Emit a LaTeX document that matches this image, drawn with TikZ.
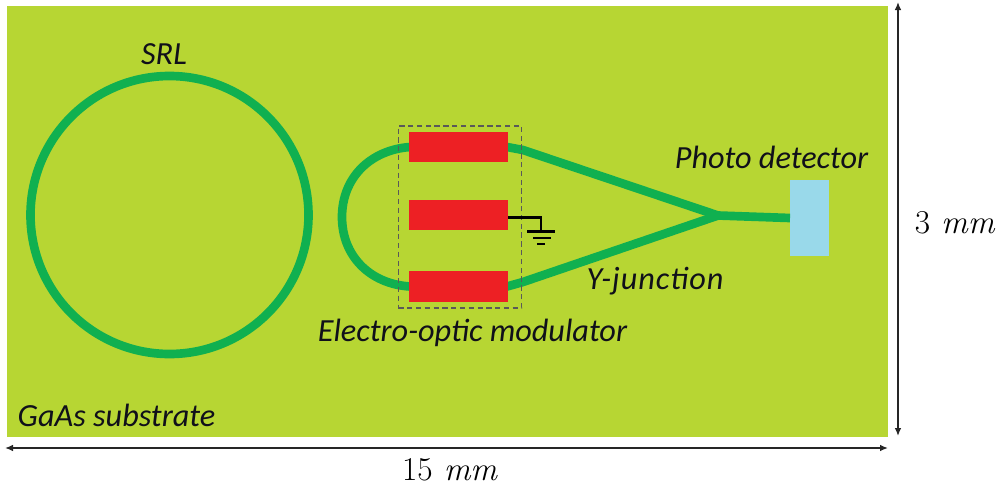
\documentclass[tikz,border=0pt]{standalone}
\usepackage{fontspec}
\setmainfont{Carlito}
\usetikzlibrary{arrows.meta,calc}
\definecolor{subst}{HTML}{B7D633}
\definecolor{guide}{HTML}{10B050}
\definecolor{elec}{HTML}{ED2024}
\definecolor{detect}{HTML}{99D9EA}
\definecolor{ink}{HTML}{10101A}
\tikzset{
  x=0.75pt,y=-0.75pt,
  wave/.style={draw=guide,line width=6.5pt,line join=round},
  electrode/.style={fill=elec,draw=none,minimum width=74.25pt,minimum height=22.9pt,inner sep=0pt,outer sep=0pt},
  lab/.style={font=\fontsize{24.2}{27}\selectfont\itshape,text=ink,inner sep=0pt},
  dim/.style={font=\fontsize{25}{28}\selectfont,text=black,inner sep=0pt},
  dimline/.style={draw=black!85,line width=1.1pt,{Latex[length=6pt,width=5pt]}-{Latex[length=6pt,width=5pt]}},
  gnd/.style={draw=black,line width=1.7pt}
}
\newcommand{\mmval}[1]{\fontspec{Latin Modern Roman}#1\,\,\textit{mm}}
\begin{document}
\begin{tikzpicture}
\useasboundingbox (0,0) rectangle (1000,486);
\node[fill=subst,draw=none,minimum width=660.75pt,minimum height=323.25pt,inner sep=0pt,outer sep=0pt,anchor=north west] (substrate) at (7,6) {};
\node[draw=guide,line width=6.5pt,circle,minimum size=208.5pt,inner sep=0pt] (srl) at (169.5,215) {};
\node[electrode] (top) at (458.5,147) {};
\node[electrode] (mid) at (458.5,215) {};
\node[electrode] (bot) at (458.5,286.5) {};
\node[fill=detect,draw=none,minimum width=29.25pt,minimum height=57pt,inner sep=0pt,outer sep=0pt] (pd) at (809.5,218) {};
\coordinate (junction) at (718,215.5);
% modulator loop
\draw[wave] ($(top.west)+(1,0)$) .. controls (370,150) and (342,178) .. (342,217)
            .. controls (342,256) and (370,284) .. ($(bot.west)+(1,0)$);
% Y-junction
\draw[wave] ($(top.east)+(-1,0)$) -- (523,150) -- (junction);
\draw[wave] ($(bot.east)+(-1,0)$) -- (523,282) -- (junction);
\draw[wave] (junction) -- (pd.west |- 0,218);
% redraw electrodes over guide ends
\node[electrode] at (top) {};
\node[electrode] at (bot) {};
% dashed box
\node[draw=black!65,line width=0.9pt,dash pattern=on 4pt off 2.6pt,minimum width=92.5pt,minimum height=136.5pt,inner sep=0pt,fill=none] (eom) at (460,217) {};
% ground
\coordinate (gtop) at (541,231.5);
\draw[gnd] (mid.east |- 0,217.5) -- (541,217.5) -- (gtop);
\coordinate (g1a) at (527,231.5); \coordinate (g1b) at (555,231.5);
\coordinate (g2a) at (533,238); \coordinate (g2b) at (551,238);
\coordinate (g3a) at (537,244); \coordinate (g3b) at (545,244);
\draw[gnd] (g1a) -- (g1b);
\draw[gnd] (g2a) -- (g2b);
\draw[gnd] (g3a) -- (g3b);
% labels
\node[lab] (tsrl) at (164,54) {SRL};
\node[lab] (tpd) at (771.5,157) {Photo detector};
\node[lab] (ty) at (655,281) {\addfontfeatures{LetterSpace=3}Y-junction};
\node[lab] (te) at (472.5,333) {Electro-optic modulator};
\node[lab] (tg) at (116.5,415) {GaAs substrate};
% dimensions
\coordinate (hl) at (5,448); \coordinate (hr) at (888,448);
\coordinate (vt) at (898,2); \coordinate (vb) at (898,436);
\draw[dimline] (hl) -- (hr);
\draw[dimline] (vt) -- (vb);
\node[dim] (t15) at (450,469.5) {\mmval{15}};
\node[dim] (t3) at (955,223) {\mmval{3}};
\end{tikzpicture}
\end{document}
